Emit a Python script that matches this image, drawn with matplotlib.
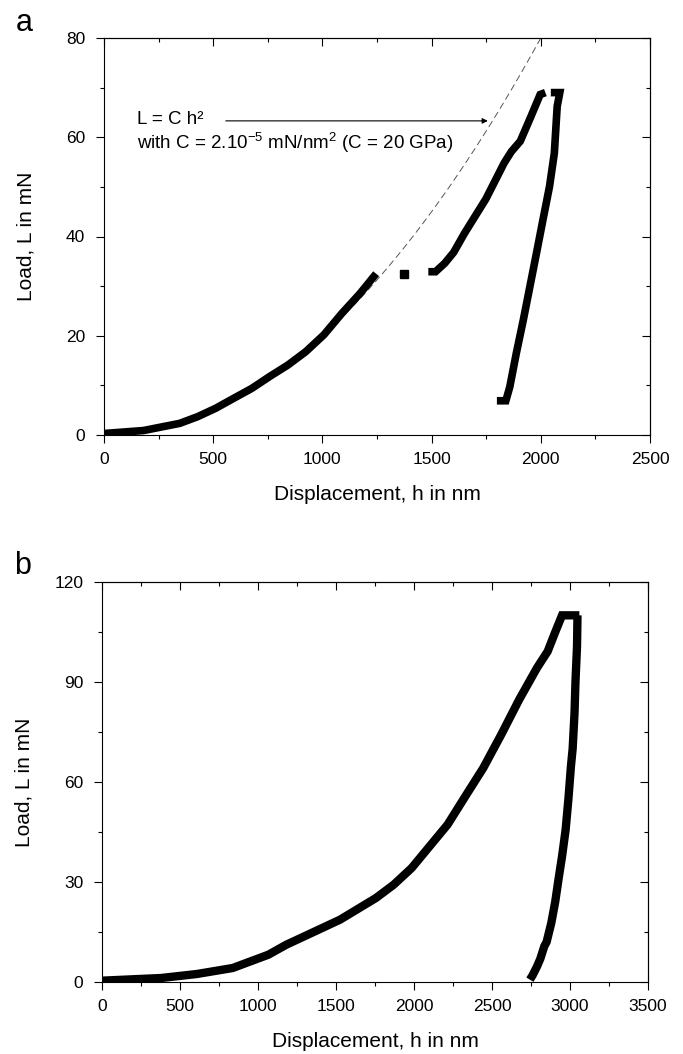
import matplotlib
matplotlib.use("Agg")
import matplotlib.pyplot as plt
import numpy as np
from matplotlib.ticker import MultipleLocator

plt.rcParams['font.family'] = ['Liberation Sans', 'DejaVu Sans']
plt.rcParams['mathtext.fontset'] = 'custom'
plt.rcParams['mathtext.rm'] = 'Liberation Sans'
plt.rcParams['mathtext.it'] = 'Liberation Sans'

# ---- Panel a data (displacement nm, load mN) ----
a_load1_h = [0, 181, 347, 429, 512, 594, 677, 759, 842, 924, 1007, 1089, 1172, 1246]
a_load1_L = [0.3, 0.9, 2.35, 3.7, 5.4, 7.4, 9.4, 11.8, 14.1, 16.8, 20.2, 24.5, 28.5, 32.5]
a_iso_h = [1375]
a_iso_L = [32.5]
a_load2_h = [1485, 1518, 1560, 1601, 1650, 1749, 1832, 1865, 1906, 1955, 1997, 2021]
a_load2_L = [32.9, 32.9, 34.6, 36.8, 40.6, 47.6, 54.8, 57.1, 59.2, 64.2, 68.6, 69.0]
a_unload_h = [2046, 2087, 2075, 2062, 2040, 2010, 1980, 1950, 1920, 1888, 1858, 1840, 1799]
a_unload_L = [69.0, 69.0, 66.2, 56.8, 50.1, 43.4, 36.6, 29.9, 23.2, 16.5, 9.7, 6.9, 6.9]
fit_C = 2e-5          # mN/nm^2
fit_h_max = 2000      # nm

# ---- Panel b data ----
b_load_h = [0, 379, 608, 838, 1067, 1182, 1297, 1526, 1756, 1870, 1985, 2100, 2215,
            2329, 2444, 2559, 2674, 2788, 2857, 2903, 2949, 3060]
b_load_L = [0.4, 1.2, 2.4, 4.2, 8.2, 11.2, 13.7, 18.7, 25.2, 29.2, 34.2, 40.7, 47.2,
            55.7, 64.2, 74.2, 84.7, 94.2, 99.2, 104.7, 110.0, 110.0]
b_unload_h = [3048, 3045, 3035, 3029, 3017, 3006, 2990, 2972, 2950, 2926, 2905, 2880,
              2850, 2835, 2810, 2789, 2760, 2743]
b_unload_L = [110.0, 100.7, 90.0, 80.7, 70.0, 64.7, 55.0, 45.7, 38.0, 30.7, 24.0, 17.7,
              12.0, 10.7, 7.0, 4.7, 2.0, 0.7]

fig = plt.figure(figsize=(6.83, 10.54), dpi=100)
axa = fig.add_axes([104/683, 1-435/1054, 546/683, 397/1054])
axb = fig.add_axes([102/683, 1-982/1054, 546/683, 400/1054])


def style(ax, xmax, xmaj, ymax, ymaj):
    ax.set_xlim(0, xmax)
    ax.set_ylim(0, ymax)
    ax.xaxis.set_major_locator(MultipleLocator(xmaj))
    ax.xaxis.set_minor_locator(MultipleLocator(xmaj / 2))
    ax.yaxis.set_major_locator(MultipleLocator(ymaj))
    ax.yaxis.set_minor_locator(MultipleLocator(ymaj / 2))
    ax.tick_params(which='major', direction='out', length=6, width=0.8, labelsize=12.5)
    ax.tick_params(axis='x', which='major', pad=6)
    ax.tick_params(axis='y', which='major', pad=7.5)
    ax.tick_params(which='minor', direction='out', length=3, width=0.8)
    for s in ax.spines.values():
        s.set_linewidth(0.8)
    top = ax.secondary_xaxis('top')
    top.xaxis.set_major_locator(MultipleLocator(xmaj))
    top.xaxis.set_minor_locator(MultipleLocator(xmaj / 2))
    top.tick_params(which='major', direction='in', length=6, width=0.8, labeltop=False)
    top.tick_params(which='minor', direction='in', length=3, width=0.8)
    right = ax.secondary_yaxis('right')
    right.yaxis.set_major_locator(MultipleLocator(ymaj))
    right.yaxis.set_minor_locator(MultipleLocator(ymaj / 2))
    right.tick_params(which='major', direction='in', length=6, width=0.8, labelright=False)
    right.tick_params(which='minor', direction='in', length=3, width=0.8)
    ax.set_xlabel('Displacement, h in nm', fontsize=15)
    ax.set_ylabel('Load, L in mN', fontsize=15)
    ax.xaxis.set_label_coords(0.5, -0.125)
    ax.yaxis.set_label_coords(-0.125, 0.5)


style(axa, 2500, 500, 80, 20)
style(axb, 3500, 500, 120, 30)

# Panel a
hh = np.linspace(0, fit_h_max, 200)
axa.plot(hh, fit_C * hh**2, ls=(0, (7, 4)), color='#555555', lw=0.7, zorder=1)
lw_a = 5.5
for h, L in [(a_load1_h, a_load1_L), (a_load2_h, a_load2_L), (a_unload_h, a_unload_L)]:
    axa.plot(h, L, color='black', lw=lw_a, solid_capstyle='butt', solid_joinstyle='miter', zorder=2)
axa.plot(a_iso_h, a_iso_L, 's', color='black', ms=6, zorder=2)
axa.annotate('', xy=(1770, 63.3), xytext=(545, 63.3),
             arrowprops=dict(arrowstyle='-|>', color='black', lw=0.8, mutation_scale=8))
axa.text(149, 63.5, 'L = C h²', fontsize=13.5, va='center', ha='left')
axa.text(149, 58.8, r'with C = 2.10$^{-5}$ mN/nm$^{2}$ (C = 20 GPa)', fontsize=13.5,
         va='center', ha='left')

# Panel b
axb.plot(b_load_h, b_load_L, color='black', lw=6, solid_capstyle='butt', solid_joinstyle='miter')
axb.plot(b_unload_h, b_unload_L, color='black', lw=6, solid_capstyle='butt', solid_joinstyle='miter')

fig.text(24.5/683, 1-23/1054, 'a', fontsize=22, ha='center', va='center')
fig.text(23/683, 1-566/1054, 'b', fontsize=22, ha='center', va='center')

fig.savefig('out.png', dpi=100)
